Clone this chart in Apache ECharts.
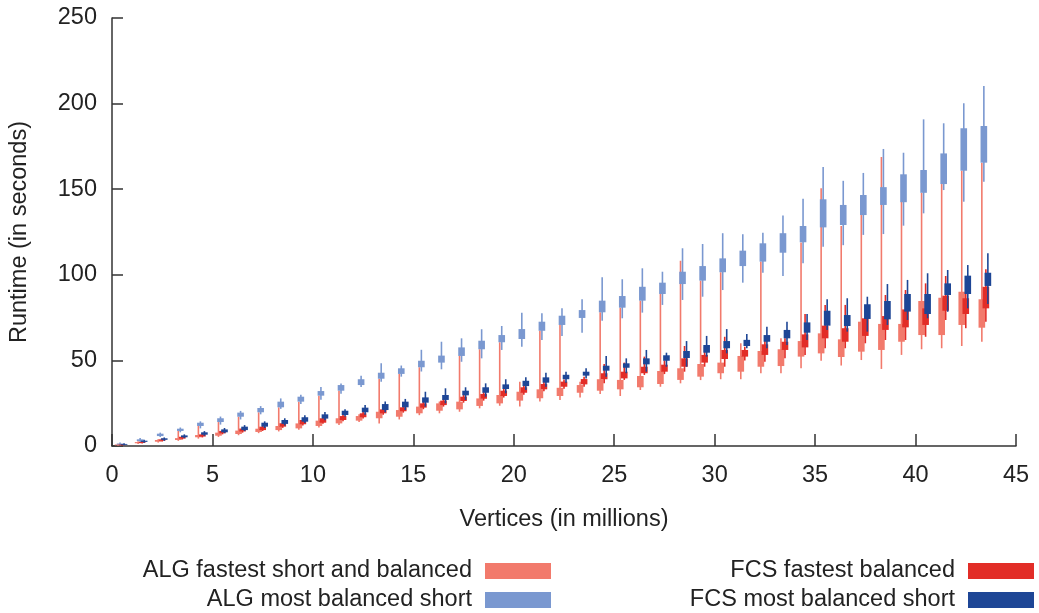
<!DOCTYPE html>
<html>
<head>
<meta charset="utf-8">
<script src="https://cdn.jsdelivr.net/npm/echarts@6/dist/echarts.min.js"></script>
<style>
  html, body { margin: 0; padding: 0; background: #fff; }
  #chart { width: 1039px; height: 613px; }
</style>
</head>
<body>
<div id="chart"></div>
<script>
// Graph size of each run group (millions of vertices)
const vertices = [0.45, 1.45, 2.45, 3.45, 4.45, 5.45, 6.45, 7.45, 8.45, 9.45,
  10.45, 11.45, 12.45, 13.45, 14.45, 15.45, 16.45, 17.45, 18.45, 19.45,
  20.45, 21.45, 22.45, 23.45, 24.45, 25.45, 26.45, 27.45, 28.45, 29.45,
  30.45, 31.45, 32.45, 33.45, 34.45, 35.45, 36.45, 37.45, 38.45, 39.45,
  40.45, 41.45, 42.45, 43.45];

// Runtime in seconds per group: [min, box low, box high, max]
const algFastest = [
  [0.2,0.4,0.9,1.3],[1.2,1.6,2.3,2.8],[2.0,2.5,3.5,4.0],[3.0,3.5,4.6,8.8],[4.3,5.1,6.4,11.7],
  [5.3,6.0,7.8,14.0],[6.3,7.0,9.0,17.1],[7.5,8.2,10.1,19.7],[8.5,9.3,11.7,22.6],[9.5,10.3,13.2,25.9],
  [10.8,11.7,14.8,29.4],[12.3,13.2,16.2,32.3],[14.0,14.8,17.5,18.5],[13.2,16.2,20.0,39.3],[15.5,17.1,21.0,42.1],
  [18.0,19.1,23.0,46.0],[19.1,20.6,24.9,26.0],[20.0,21.4,25.9,52.6],[22.0,23.4,27.8,56.5],[23.5,24.9,29.8,60.6],
  [23.0,26.5,31.7,37.6],[26.0,27.9,33.1,67.3],[26.9,29.2,34.0,70.7],[28.4,31.1,35.6,37.5],[30.4,32.3,39.0,78.1],
  [29.2,33.1,38.6,80.8],[32.7,34.3,40.9,84.9],[34.6,36.2,43.8,88.8],[36.6,38.6,45.4,108.2],[38.5,40.5,47.9,96.6],
  [39.0,42.5,48.7,101.5],[39.0,43.4,52.6,60.0],[42.5,46.3,55.5,107.7],[42.5,46.7,56.5,62.9],[45.4,52.2,61.3,118.8],
  [49.8,54.1,65.8,150.5],[47.0,52.0,62.3,128.5],[50.2,55.1,72.6,134.9],[45.0,56.1,71.3,168.8],[53.2,60.9,71.3,142.7],
  [56.5,64.8,84.7,147.9],[57.1,64.8,86.6,153.0],[58.4,70.7,90.1,160.8],[60.9,69.1,85.7,165.5]
];
const algBalanced = [
  [0.5,0.8,1.4,2.0],[2.3,2.9,3.9,4.6],[5.3,5.8,7.2,7.8],[8.0,8.8,10.1,10.8],[10.3,11.7,13.6,14.4],
  [12.5,14.0,16.2,17.2],[15.5,17.1,19.5,20.5],[18.5,19.7,22.2,23.3],[21.7,22.6,25.9,27.8],[24.5,25.9,28.8,30.0],
  [27.0,29.4,32.1,34.5],[30.5,32.3,35.6,36.5],[34.5,35.6,39.0,41.0],[37.6,39.3,42.8,48.3],[40.5,42.1,45.4,47.0],
  [43.5,46.0,49.8,56.2],[44.8,48.7,52.8,60.9],[49.2,52.6,57.6,62.9],[51.2,56.5,61.5,68.2],[56.1,60.6,64.8,70.1],
  [58.0,62.5,68.3,77.9],[61.9,67.3,72.6,77.5],[64.3,70.7,76.1,80.4],[66.2,74.8,79.4,85.7],[73.2,78.1,84.9,98.5],
  [74.6,80.8,87.6,97.4],[77.9,84.9,93.0,103.8],[82.4,88.8,95.4,101.8],[85.3,94.6,101.8,115.5],[87.2,96.6,105.1,118.0],
  [91.1,101.5,109.6,124.3],[95.4,105.1,114.1,123.7],[101.2,107.7,118.4,124.6],[99.3,112.9,124.3,134.6],[106.7,119.0,128.5,144.4],
  [116.4,127.7,144.1,163.0],[117.3,129.1,140.8,154.9],[123.3,134.9,146.6,159.5],[123.8,140.8,151.2,173.5],[128.7,142.4,158.7,171.3],
  [135.9,147.9,161.2,190.8],[149.5,153.0,170.9,188.5],[142.7,160.8,185.6,200.2],[154.4,165.5,186.9,210.3]
];
const fcsFastest = [
  [0.3,0.5,0.9,1.2],[1.4,1.8,2.4,2.9],[2.6,3.1,3.9,4.4],[3.8,4.3,5.4,5.9],[5.0,5.5,6.8,7.4],
  [6.8,7.4,8.8,9.4],[7.8,8.5,10.2,10.9],[8.8,9.3,11.3,12.0],[10.6,11.3,13.3,14.2],[12.0,12.7,15.2,16.0],
  [13.0,13.6,16.2,17.0],[14.5,15.2,17.5,18.3],[16.0,16.8,19.1,20.0],[18.3,19.1,21.4,22.4],[19.5,20.3,22.6,23.5],
  [21.5,22.4,24.9,26.0],[23.0,23.9,26.5,27.5],[25.3,26.3,28.8,29.8],[26.5,27.6,30.4,31.5],[28.3,29.2,32.3,33.5],
  [30.0,31.1,34.3,35.5],[32.0,33.1,36.2,37.5],[33.5,34.6,37.6,38.8],[34.6,36.0,39.1,40.5],[36.6,39.0,42.5,47.9],
  [38.6,39.5,43.4,48.7],[41.5,42.5,46.3,52.2],[42.0,43.4,47.5,50.0],[43.4,46.3,51.2,58.4],[46.3,48.7,53.2,58.0],
  [46.3,50.8,56.1,63.8],[50.0,52.2,56.1,58.0],[49.2,53.2,59.4,63.8],[51.2,56.1,60.9,62.9],[53.2,57.6,65.2,77.1],
  [57.1,62.9,70.3,82.4],[57.1,60.9,68.8,82.4],[60.0,64.3,74.6,75.9],[61.9,67.8,75.9,88.2],[61.9,69.3,79.8,91.1],
  [63.8,70.7,80.4,95.0],[73.6,79.0,87.8,99.3],[68.8,77.1,86.3,97.0],[72.6,80.4,93.0,103.2]
];
const fcsBalanced = [
  [0.4,0.7,1.2,1.6],[1.9,2.4,3.1,3.6],[3.0,3.6,4.5,5.0],[4.6,5.1,6.2,6.8],[6.0,6.6,8.0,8.7],
  [7.5,8.0,9.7,10.5],[8.7,9.3,11.3,12.2],[10.5,11.3,13.6,14.4],[12.0,12.9,15.2,16.2],[13.5,14.2,16.8,18.0],
  [15.0,16.0,18.5,19.8],[17.2,18.1,20.6,21.5],[18.3,19.7,22.4,23.9],[19.7,21.0,24.5,26.0],[21.0,22.6,25.9,27.5],
  [23.0,25.3,28.4,31.7],[24.9,26.9,29.8,33.7],[26.9,29.6,32.3,34.3],[28.8,31.1,34.3,36.6],[30.8,33.3,36.0,39.0],
  [32.7,35.0,38.1,40.1],[34.6,37.0,40.1,42.8],[37.0,39.0,41.6,43.4],[39.5,41.1,43.4,45.4],[40.5,44.0,46.9,52.6],
  [42.5,45.7,48.3,51.2],[43.4,47.7,51.2,56.1],[46.3,49.8,53.0,54.5],[46.3,51.4,55.5,61.3],[52.2,54.5,59.0,64.3],
  [54.1,57.1,61.3,68.3],[57.1,58.4,62.0,65.4],[57.1,60.9,64.8,69.7],[59.0,62.9,67.8,72.6],[61.9,66.2,72.2,77.1],
  [67.8,70.3,79.0,85.7],[66.8,70.1,76.5,86.3],[66.8,74.2,82.8,87.2],[70.7,74.0,84.7,94.6],[73.6,78.5,88.8,97.0],
  [74.6,77.1,88.8,100.9],[78.4,88.2,95.0,102.8],[80.4,88.8,99.5,105.7],[82.9,93.5,101.2,112.6]
];

const seriesNames = [
  'ALG fastest short and balanced',
  'ALG most balanced short',
  'FCS fastest balanced',
  'FCS most balanced short'
];
const yTicks = [0, 50, 100, 150, 200, 250];
const xTicks = [0, 5, 10, 15, 20, 25, 30, 35, 40, 45];

const FONT = 'Liberation Sans, Arial, Helvetica, sans-serif';
const FONT_SIZE = 23.5;
const TEXT_COLOR = '#222';
const colors = ['#f27a6c', '#7a98d0', '#e22d27', '#1e4696'];
const shifts = [-0.15, -0.05, 0.05, 0.15];   // side-by-side placement within a group
const BOX_W = 0.33;

function buildRows(values, shift) {
  return values.map((v, i) => [vertices[i] + shift, v[0], v[1], v[2], v[3]]);
}

function candle(color) {
  return function (params, api) {
    const x = api.value(0);
    const lo = api.coord([x, api.value(1)]);
    const b1 = api.coord([x, api.value(2)]);
    const b2 = api.coord([x, api.value(3)]);
    const hi = api.coord([x, api.value(4)]);
    const w = api.size([BOX_W, 0])[0];
    return {
      type: 'group',
      children: [
        { type: 'line', shape: { x1: lo[0], y1: lo[1], x2: hi[0], y2: hi[1] },
          style: { stroke: color, lineWidth: 1.6 } },
        { type: 'rect', shape: { x: b1[0] - w / 2, y: Math.min(b1[1], b2[1]), width: w, height: Math.abs(b1[1] - b2[1]) },
          style: { fill: color } }
      ]
    };
  };
}

const allValues = [algFastest, algBalanced, fcsFastest, fcsBalanced];

const series = allValues.map((vals, k) => ({
  name: seriesNames[k],
  type: 'custom',
  renderItem: candle(colors[k]),
  encode: { x: 0, y: [1, 2, 3, 4] },
  data: buildRows(vals, shifts[k]),
  itemStyle: { color: colors[k] },
  clip: false
}));

// Legend: right-aligned labels with the colour swatch to their right
function legendEntry(label, color, textRight, yMid) {
  return [
    { type: 'text', x: textRight, y: yMid,
      style: { text: label, textAlign: 'right', textVerticalAlign: 'middle',
               align: 'right', verticalAlign: 'middle',
               font: FONT_SIZE + 'px ' + FONT, fill: TEXT_COLOR } },
    { type: 'rect', shape: { x: textRight + 13, y: yMid - 8, width: 66, height: 16 },
      style: { fill: color } }
  ];
}

const chart = echarts.init(document.getElementById('chart'), null, { renderer: 'canvas' });
chart.setOption({
  animation: false,
  backgroundColor: '#fff',
  grid: { left: 112, right: 23, top: 18, bottom: 167, containLabel: false },
  xAxis: {
    type: 'value', min: xTicks[0], max: xTicks[xTicks.length - 1], interval: 5,
    name: 'Vertices (in millions)', nameLocation: 'middle', nameGap: 62,
    nameTextStyle: { fontFamily: FONT, fontSize: FONT_SIZE, color: TEXT_COLOR },
    axisLine: { lineStyle: { color: '#333', width: 1.5 } },
    axisTick: { inside: true, length: 12, lineStyle: { color: '#333', width: 1.5 } },
    axisLabel: { fontFamily: FONT, fontSize: FONT_SIZE, color: TEXT_COLOR, margin: 18 },
    splitLine: { show: false }
  },
  yAxis: {
    type: 'value', min: yTicks[0], max: yTicks[yTicks.length - 1], interval: 50,
    name: 'Runtime (in seconds)', nameLocation: 'middle', nameGap: 80,
    nameTextStyle: { fontFamily: FONT, fontSize: FONT_SIZE, color: TEXT_COLOR },
    axisLine: { show: true, lineStyle: { color: '#333', width: 1.5 } },
    axisTick: { show: true, inside: true, length: 11, lineStyle: { color: '#333', width: 1.5 } },
    axisLabel: { fontFamily: FONT, fontSize: FONT_SIZE, color: TEXT_COLOR, margin: 15 },
    splitLine: { show: false }
  },
  series: series,
  graphic: [].concat(
    legendEntry(seriesNames[0], colors[0], 472, 571),
    legendEntry(seriesNames[1], colors[1], 472, 600),
    legendEntry(seriesNames[2], colors[2], 955, 571),
    legendEntry(seriesNames[3], colors[3], 955, 600)
  )
});
</script>
</body>
</html>
